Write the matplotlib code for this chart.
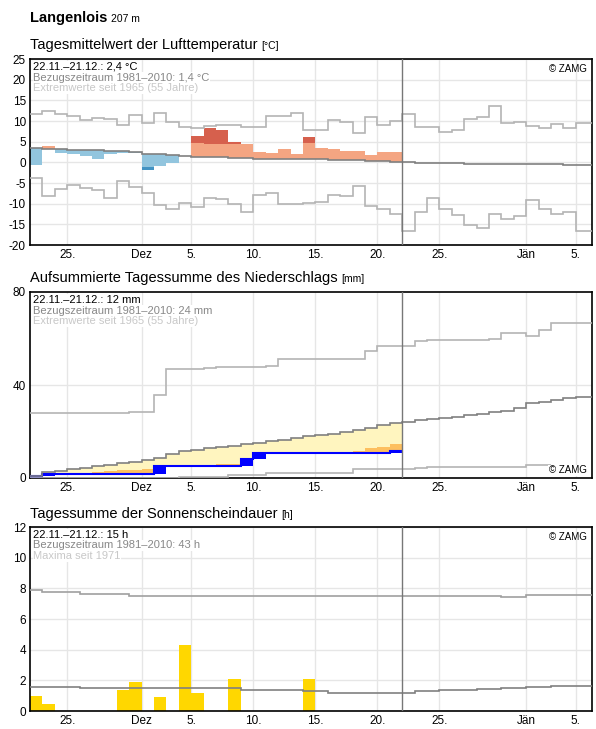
import matplotlib
matplotlib.use("Agg")
import matplotlib.pyplot as plt
import numpy as np

# ---------------- data ----------------
tick_pos = [3, 9, 13, 18, 23, 28, 33, 40, 44]
tick_lab = ["25.", "Dez", "5.", "10.", "15.", "20.", "25.", "Jän", "5."]

temp_obs = [-0.6, 3.9, 2.3, 1.9, 1.6, 0.7, 1.9, 2.2, 2.2, -1.8, -0.9, -0.1, 1.5, 6.3, 8.3,
            7.8, 4.8, 4.5, 2.5, 2.2, 3.2, 2.1, 6.1, 3.5, 3.2, 2.8, 2.8, 1.8, 2.6, 2.4]
temp_dark = [None, None, None, None, None, None, None, None, None, -1.2, None, None, None, 4.7, 4.4,
             4.4, 4.4, 4.4, None, None, None, None, 4.6, None, None, None, None, None, None, None]
temp_clim = [3.4, 3.3, 3.2, 3.1, 3.0, 2.9, 2.8, 2.7, 2.4, 2.1, 1.9, 1.8, 1.6, 1.4, 1.3, 1.2,
             1.1, 1.0, 0.9, 0.9, 0.8, 0.8, 0.7, 0.7, 0.6, 0.6, 0.5, 0.4, 0.3, 0.1, 0.0, -0.1,
             -0.1, -0.2, -0.2, -0.3, -0.3, -0.3, -0.4, -0.4, -0.4, -0.5, -0.5, -0.6, -0.6, -0.6]
temp_max = [11.6, 12.3, 11.6, 11.1, 10.2, 10.7, 10.4, 9.0, 11.4, 9.5, 11.9, 9.7, 8.6, 8.4, 8.9,
            9.1, 9.1, 8.5, 8.5, 11.2, 11.2, 11.9, 7.9, 7.8, 10.2, 9.8, 7.0, 10.9, 9.0, 9.9,
            11.6, 8.5, 8.5, 7.4, 7.8, 10.4, 10.9, 13.6, 9.5, 9.8, 8.7, 8.2, 9.2, 8.2, 9.5, 9.5]
temp_min = [-3.8, -8.2, -6.5, -5.6, -6.1, -6.8, -8.7, -4.4, -6.0, -7.5, -10.3, -11.4, -9.8, -10.8,
            -8.7, -8.9, -10.2, -11.9, -8.0, -7.3, -10.1, -10.2, -9.9, -9.5, -8.0, -8.2, -5.7,
            -10.6, -11.4, -12.4, -16.7, -12.1, -8.6, -11.4, -12.8, -15.2, -16.0, -12.4, -13.8,
            -13.0, -9.2, -11.4, -12.4, -12.1, -16.7, -16.7]

prec_obs = [1.0, 1.6, 1.6, 1.6, 1.6, 1.6, 1.6, 1.6, 1.6, 1.6, 5.0, 5.0, 5.0, 5.0, 5.0, 5.0,
            5.0, 8.0, 10.9, 10.9, 10.9, 10.9, 10.9, 10.9, 10.9, 10.9, 10.9, 10.9, 10.9, 11.8]
prec_orange = [1.0, 1.6, 1.6, 1.6, 1.6, 2.6, 2.9, 3.3, 3.6, 3.9, 5.0, 5.0, 5.0, 5.0, 5.6, 6.0,
               6.0, 8.0, 10.9, 10.9, 10.9, 10.9, 10.9, 10.9, 10.9, 10.9, 11.6, 12.8, 13.5, 14.7]
prec_clim = [1.0, 2.7, 3.2, 3.7, 4.5, 5.0, 5.6, 6.5, 7.0, 7.8, 8.8, 10.2, 11.4, 12.1, 12.8, 13.2,
             13.9, 14.7, 15.1, 15.7, 16.4, 17.2, 18.0, 18.5, 19.0, 19.7, 20.5, 21.4, 22.7, 23.6,
             24.3, 24.9, 25.4, 26.0, 26.4, 27.0, 27.6, 28.3, 28.9, 30.3, 32.2, 32.9, 33.6, 34.3,
             34.8, 34.8]
prec_max = [27.9, 27.9, 27.9, 27.9, 27.9, 27.9, 27.9, 27.9, 28.6, 28.6, 35.6, 46.8, 46.8, 46.8,
            47.1, 47.7, 47.7, 47.7, 47.7, 48.0, 51.3, 51.3, 51.3, 51.3, 51.3, 51.3, 51.3, 54.6,
            56.6, 56.6, 56.8, 58.8, 59.3, 59.3, 59.3, 59.3, 59.3, 59.8, 62.5, 62.5, 60.9, 63.6,
            66.7, 66.7, 66.7, 66.7]
prec_min = [0, 0, 0, 0, 0, 0, 0, 0, 0, 0.2, 0.2, 0.2, 0.6, 0.6, 0.6, 0.6, 1.2, 1.2, 1.2, 2.2,
            2.2, 2.2, 2.2, 2.2, 2.2, 2.2, 3.9, 3.9, 3.9, 3.9, 3.7, 4.2, 4.6, 4.6, 4.6, 4.6, 4.6,
            4.6, 4.6, 4.6, 5.6, 5.6]

sun_obs = [1.0, 0.48, 0, 0, 0, 0, 0, 1.4, 1.9, 0, 0.93, 0, 4.3, 1.2, 0, 0, 2.1, 0, 0, 0, 0, 0,
           2.1, 0, 0, 0, 0, 0, 0, 0]
sun_clim = [1.56, 1.56, 1.56, 1.56, 1.47, 1.47, 1.47, 1.47, 1.5, 1.5, 1.5, 1.5, 1.5, 1.5, 1.5,
            1.5, 1.5, 1.36, 1.36, 1.36, 1.36, 1.36, 1.28, 1.28, 1.19, 1.19, 1.19, 1.19, 1.19,
            1.19, 1.2, 1.3, 1.3, 1.35, 1.35, 1.4, 1.45, 1.45, 1.5, 1.5, 1.55, 1.55, 1.6, 1.6,
            1.6, 1.6]
sun_max = [7.88, 7.75, 7.75, 7.75, 7.66, 7.66, 7.66, 7.66] + [7.53] * 30 + [7.45, 7.45] + [7.55] * 6

# ---------------- figure ----------------
W, H = 596, 729
plt.rcParams['font.family'] = ['Liberation Sans', 'DejaVu Sans']
plt.rcParams['axes.unicode_minus'] = False
fig = plt.figure(figsize=(W / 100, H / 100), dpi=100)
renderer = fig.canvas.get_renderer()
XMAX = 45.3


def mkax(top, bot):
    return fig.add_axes([30 / W, 1 - bot / H, (592 - 30) / W, (bot - top) / H])


def steps(ax, vals, **kw):
    v = list(vals)
    x = np.arange(len(v) + 1)
    ax.stairs(v, x, baseline=None, **kw)


def style(ax, yticks, ygrid):
    ax.set_xlim(0, XMAX)
    ax.set_xticks(tick_pos)
    ax.set_xticklabels(tick_lab, fontsize=8.5)
    ax.set_yticks(yticks)
    ax.tick_params(length=0, labelsize=8.5, pad=3)
    for g in ygrid:
        ax.axhline(g, color="#e6e6e6", lw=1, zorder=0)
    for t in tick_pos:
        ax.axvline(t, color="#e6e6e6", lw=1, zorder=0)
    ax.axvline(30, color="#777777", lw=1, zorder=5)
    for s in ax.spines.values():
        s.set_linewidth(1.2)


def info(ax, lines):
    cols = ["black", "#888888", "#c8c8c8"]
    for i, (t, c) in enumerate(zip(lines, cols)):
        ax.text(0.006, 0.985 - i * 0.058, t, transform=ax.transAxes, ha="left", va="top",
                fontsize=8, color=c, zorder=10,
                bbox=dict(facecolor="white", edgecolor="none", pad=0.5))


def title(y, main, unit, size=10.5, weight="normal", usize=7.5):
    t = fig.text(30 / W, 1 - y / H, main, fontsize=size, fontweight=weight, va="baseline")
    bb = t.get_window_extent(renderer)
    fig.text((bb.x1 + 4) / W, 1 - y / H, unit, fontsize=usize, va="baseline")


title(22, "Langenlois", "207 m", size=10.5, weight="bold", usize=7.5)

# --- temperature ---
ax1 = mkax(59, 245)
style(ax1, range(-20, 26, 5), range(-20, 26, 5))
ax1.set_ylim(-20, 25)
for d, (o, c, dk) in enumerate(zip(temp_obs, temp_clim, temp_dark)):
    if o >= c:
        lt, dc = "#f4a582", "#d6604d"
        top = o if dk is None else dk
        ax1.bar(d, top - c, bottom=c, width=1, align="edge", color=lt, lw=0, zorder=2)
        if dk is not None:
            ax1.bar(d, o - dk, bottom=dk, width=1, align="edge", color=dc, lw=0, zorder=2)
    else:
        lt, dc = "#92c5de", "#4393c3"
        bot = o if dk is None else dk
        ax1.bar(d, c - bot, bottom=bot, width=1, align="edge", color=lt, lw=0, zorder=2)
        if dk is not None:
            ax1.bar(d, dk - o, bottom=o, width=1, align="edge", color=dc, lw=0, zorder=2)
steps(ax1, temp_max, color="#b4b4b4", lw=1.2, zorder=3)
steps(ax1, temp_min, color="#b4b4b4", lw=1.2, zorder=3)
steps(ax1, temp_clim, color="#808080", lw=1.2, zorder=4)
info(ax1, ["22.11.–21.12.: 2,4 °C", "Bezugszeitraum 1981–2010: 1,4 °C", "Extremwerte seit 1965 (55 Jahre)"])
ax1.text(0.99, 0.975, "© ZAMG", transform=ax1.transAxes, ha="right", va="top", fontsize=7)
title(49, "Tagesmittelwert der Lufttemperatur", "[°C]")

# --- precipitation ---
ax2 = mkax(292, 478)
style(ax2, [0, 40, 80], [40])
ax2.set_ylim(0, 80)
n = len(prec_obs)
ax2.bar(range(n), np.array(prec_clim[:n]) - np.array(prec_orange), bottom=prec_orange, width=1,
        align="edge", color="#fff5bf", lw=0, zorder=2)
ax2.bar(range(n), np.array(prec_orange) - np.array(prec_obs), bottom=prec_obs, width=1,
        align="edge", color="#fdbf5f", lw=0, zorder=2)
prev = [0] + prec_obs[:-1]
ax2.bar(range(n), np.array(prec_obs) - np.array(prev), bottom=prev, width=1, align="edge",
        color="#0000ff", lw=0, zorder=3)
steps(ax2, prec_obs, color="#0000ff", lw=1.5, zorder=4)
steps(ax2, prec_max, color="#b4b4b4", lw=1.2, zorder=3)
steps(ax2, prec_min, color="#b4b4b4", lw=1.2, zorder=3)
steps(ax2, prec_clim, color="#808080", lw=1.2, zorder=4)
info(ax2, ["22.11.–21.12.: 12 mm", "Bezugszeitraum 1981–2010: 24 mm", "Extremwerte seit 1965 (55 Jahre)"])
ax2.text(0.99, 0.015, "© ZAMG", transform=ax2.transAxes, ha="right", va="bottom", fontsize=7,
         bbox=dict(facecolor="white", edgecolor="none", pad=0.5), zorder=10)
title(282, "Aufsummierte Tagessumme des Niederschlags", "[mm]")

# --- sunshine ---
ax3 = mkax(527, 711)
style(ax3, range(0, 13, 2), range(0, 13, 2))
ax3.set_ylim(0, 12)
ax3.bar(range(len(sun_obs)), sun_obs, width=1, align="edge", color="#ffd700", lw=0, zorder=2)
steps(ax3, sun_max, color="#a0a0a0", lw=1.2, zorder=3)
steps(ax3, sun_clim, color="#808080", lw=1.2, zorder=4)
info(ax3, ["22.11.–21.12.: 15 h", "Bezugszeitraum 1981–2010: 43 h", "Maxima seit 1971"])
ax3.text(0.99, 0.975, "© ZAMG", transform=ax3.transAxes, ha="right", va="top", fontsize=7)
title(518, "Tagessumme der Sonnenscheindauer", "[h]")

fig.savefig("out.png", dpi=100)
